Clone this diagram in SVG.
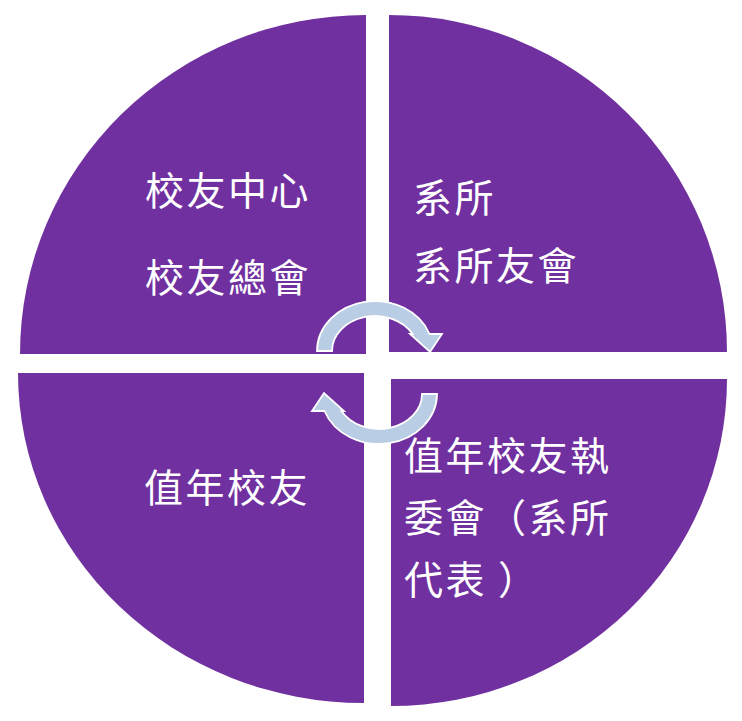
<svg xmlns="http://www.w3.org/2000/svg" width="742" height="721" viewBox="0 0 742 721">
<style>
.q{fill:#7030A0;}
.t{fill:#FFFFFF;font-family:"Noto Sans CJK TC","Noto Sans CJK SC",sans-serif;font-size:39px;letter-spacing:2.5px;}
.arr{fill:#B9CDE5;stroke:#FFFFFF;stroke-width:1.8;stroke-linejoin:miter;}
</style>
<rect width="742" height="721" fill="#FFFFFF"/>
<g id="q-top-left">
<path class="q" d="M366,354 L20,354 A346,339 0 0 1 366,15 Z"/>
<text class="t" x="145" y="205">校友中心</text>
<text class="t" x="145" y="292">校友總會</text>
</g>
<g id="q-top-right">
<path class="q" d="M389,352 L389,15 A338,337 0 0 1 727,352 Z"/>
<text class="t" x="413" y="212">系所</text>
<text class="t" x="413" y="280">系所友會</text>
</g>
<g id="q-bottom-left">
<path class="q" d="M364,373 L364,703 A346,330 0 0 1 18,373 Z"/>
<text class="t" x="144" y="502">值年校友</text>
</g>
<g id="q-bottom-right">
<path class="q" d="M391,379 L727,379 A336,327 0 0 1 391,706 Z"/>
<text class="t" x="404" y="470">值年校友執</text>
<text class="t" x="404" y="532">委會（系所</text>
<text class="t" x="404" y="594">代表<tspan dx="11">）</tspan></text>
</g>
<g id="connectors">
<path id="arrow-top" class="arr" d="M317,351 A58,50 0 0 1 429.5,334 L442,334 L430,352 L410,334 L412.6,334 A43,35 0 0 0 332,351 Z"/>
<path id="arrow-bottom" class="arr" transform="rotate(180 377 372.5)" d="M317,351 A58,50 0 0 1 429.5,334 L442,334 L430,352 L410,334 L412.6,334 A43,35 0 0 0 332,351 Z"/>
</g>
</svg>
